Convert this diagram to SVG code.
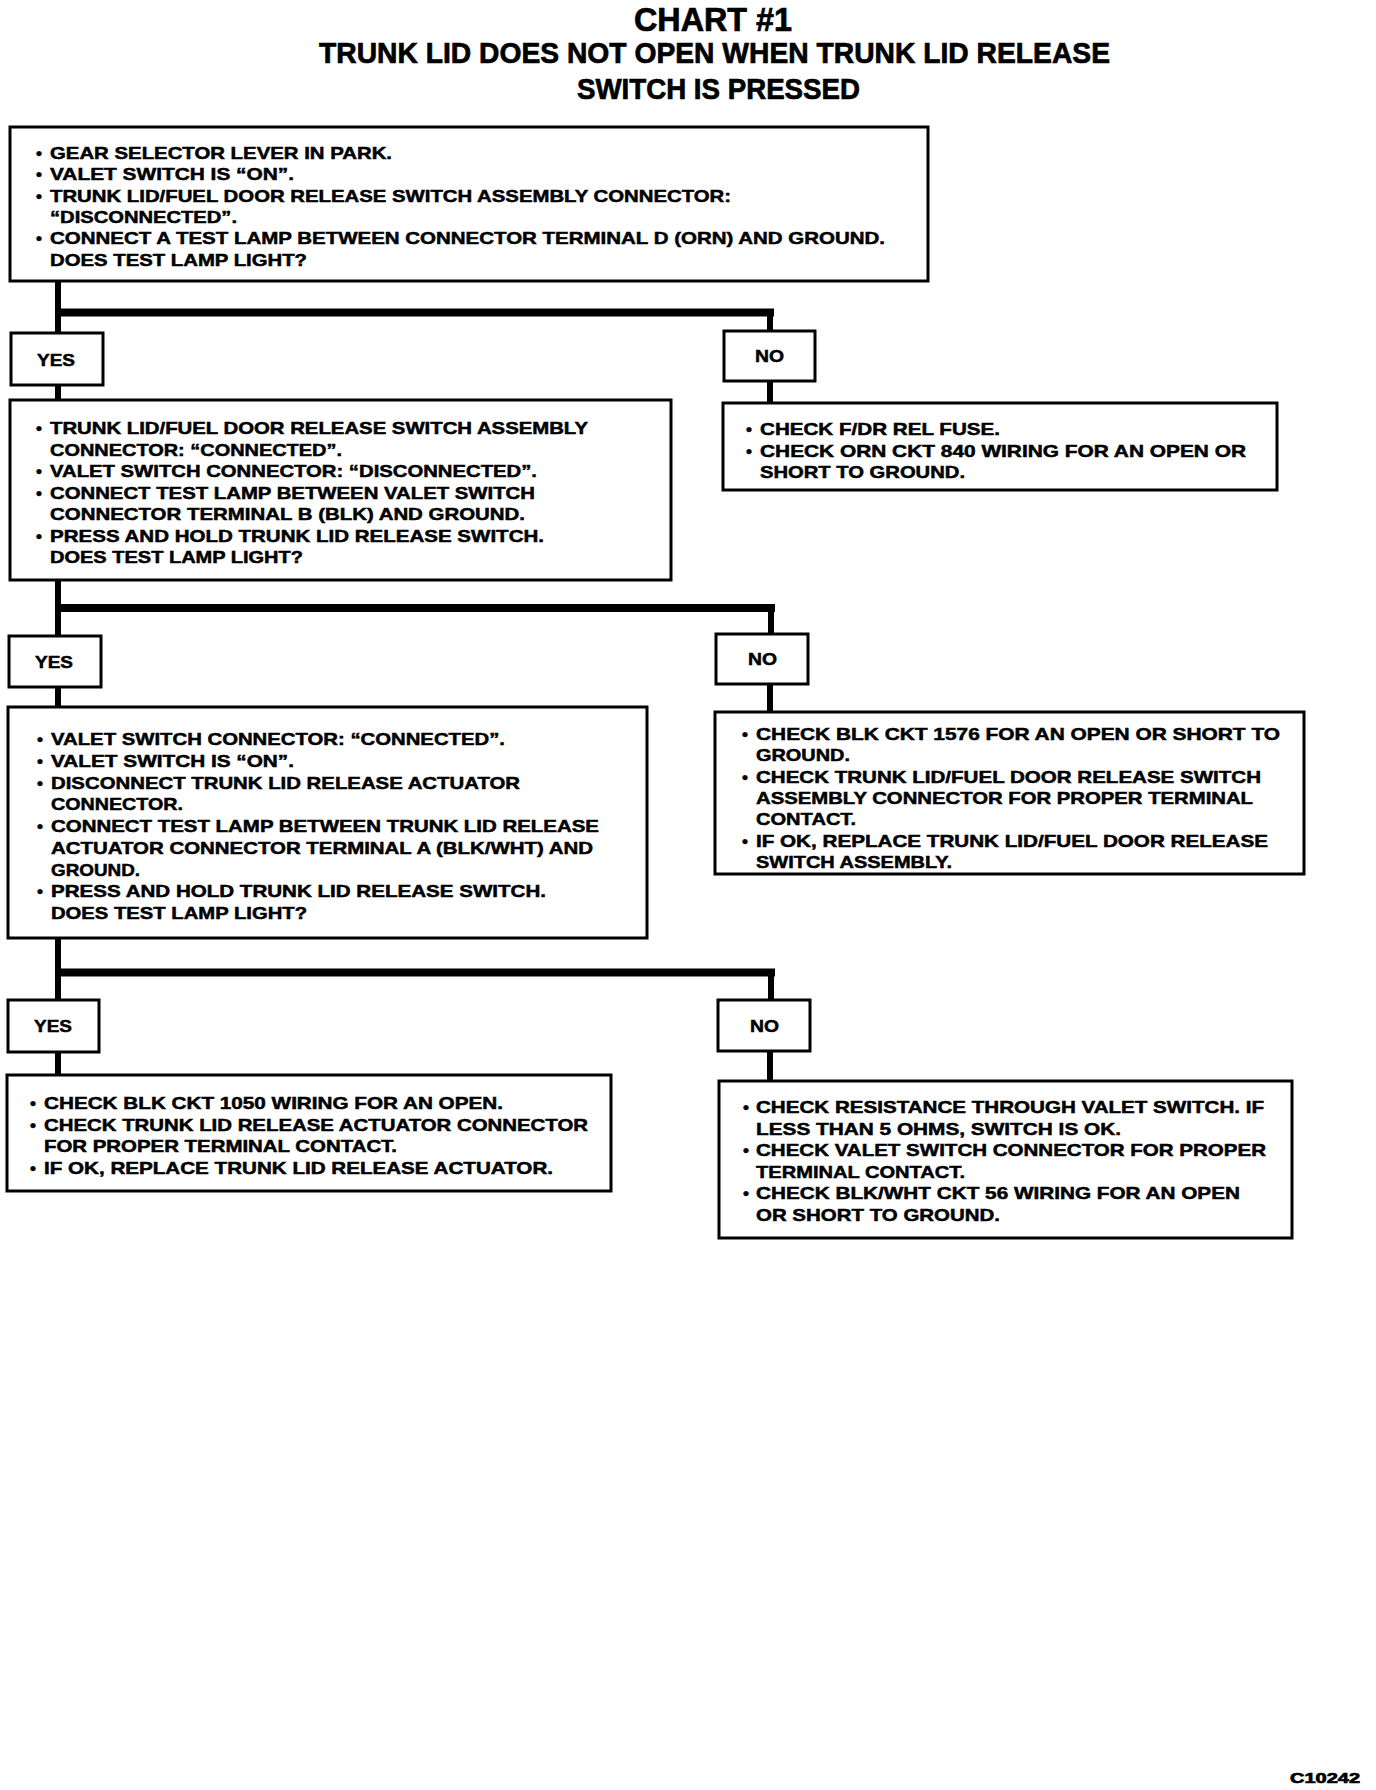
<svg xmlns="http://www.w3.org/2000/svg" width="1376" height="1790" viewBox="0 0 1376 1790">
<style>
.t{font-family:"Liberation Sans",Arial,sans-serif;font-weight:bold;font-size:17px;fill:#000;stroke:#000;stroke-width:0.5}
.h{font-family:"Liberation Sans",Arial,sans-serif;font-weight:bold;fill:#000;stroke:#000;stroke-width:0.7}
.box{fill:#fff;stroke:#000;stroke-width:3}
.v{fill:none;stroke:#000;stroke-width:6}
.hb{fill:none;stroke:#000;stroke-width:8}
</style>
<rect width="1376" height="1790" fill="#fff"/>
<g id="title">
<text class="h" x="634" y="31" font-size="33" textLength="158" lengthAdjust="spacingAndGlyphs">CHART #1</text>
<text class="h" x="319" y="63" font-size="29" textLength="791" lengthAdjust="spacingAndGlyphs">TRUNK LID DOES NOT OPEN WHEN TRUNK LID RELEASE</text>
<text class="h" x="577" y="99" font-size="29" textLength="283" lengthAdjust="spacingAndGlyphs">SWITCH IS PRESSED</text>
</g>
<g id="connectors">
<path class="v" d="M58 282V333M58 385V400M770 310V331M770 381V403"/>
<path class="hb" d="M55 312.5H774"/>
<path class="v" d="M58 580V636M58 687V707M771 605V634M770 684V712"/>
<path class="hb" d="M55 608H775"/>
<path class="v" d="M58 938V1000M58 1052V1075M771 969V1000M770 1051V1081"/>
<path class="hb" d="M55 972.5H775"/>
</g>
<g id="box1">
<rect class="box" x="10" y="127" width="918" height="154"/>
<text class="t" x="36" y="159">•</text><text class="t" x="50" y="159" textLength="342" lengthAdjust="spacingAndGlyphs">GEAR SELECTOR LEVER IN PARK.</text>
<text class="t" x="36" y="180.3">•</text><text class="t" x="50" y="180.3" textLength="244" lengthAdjust="spacingAndGlyphs">VALET SWITCH IS “ON”.</text>
<text class="t" x="36" y="201.6">•</text><text class="t" x="50" y="201.6" textLength="681" lengthAdjust="spacingAndGlyphs">TRUNK LID/FUEL DOOR RELEASE SWITCH ASSEMBLY CONNECTOR:</text>
<text class="t" x="50" y="223" textLength="187" lengthAdjust="spacingAndGlyphs">“DISCONNECTED”.</text>
<text class="t" x="36" y="244.3">•</text><text class="t" x="50" y="244.3" textLength="835" lengthAdjust="spacingAndGlyphs">CONNECT A TEST LAMP BETWEEN CONNECTOR TERMINAL D (ORN) AND GROUND.</text>
<text class="t" x="50" y="265.6" textLength="257" lengthAdjust="spacingAndGlyphs">DOES TEST LAMP LIGHT?</text>
</g>
<g id="yes1">
<rect class="box" x="11" y="333" width="92" height="52"/>
<text class="t" x="37" y="366" textLength="38" lengthAdjust="spacingAndGlyphs">YES</text>
</g>
<g id="no1">
<rect class="box" x="724" y="331" width="91" height="50"/>
<text class="t" x="755" y="362" textLength="29" lengthAdjust="spacingAndGlyphs">NO</text>
</g>
<g id="box2">
<rect class="box" x="10" y="400" width="661" height="180"/>
<text class="t" x="36" y="434">•</text><text class="t" x="50" y="434" textLength="538" lengthAdjust="spacingAndGlyphs">TRUNK LID/FUEL DOOR RELEASE SWITCH ASSEMBLY</text>
<text class="t" x="50" y="455.5" textLength="292" lengthAdjust="spacingAndGlyphs">CONNECTOR: “CONNECTED”.</text>
<text class="t" x="36" y="477">•</text><text class="t" x="50" y="477" textLength="487" lengthAdjust="spacingAndGlyphs">VALET SWITCH CONNECTOR: “DISCONNECTED”.</text>
<text class="t" x="36" y="498.5">•</text><text class="t" x="50" y="498.5" textLength="485" lengthAdjust="spacingAndGlyphs">CONNECT TEST LAMP BETWEEN VALET SWITCH</text>
<text class="t" x="50" y="520" textLength="475" lengthAdjust="spacingAndGlyphs">CONNECTOR TERMINAL B (BLK) AND GROUND.</text>
<text class="t" x="36" y="541.5">•</text><text class="t" x="50" y="541.5" textLength="494" lengthAdjust="spacingAndGlyphs">PRESS AND HOLD TRUNK LID RELEASE SWITCH.</text>
<text class="t" x="50" y="563" textLength="253" lengthAdjust="spacingAndGlyphs">DOES TEST LAMP LIGHT?</text>
</g>
<g id="noresult1">
<rect class="box" x="723" y="403" width="554" height="87"/>
<text class="t" x="746" y="435">•</text><text class="t" x="760" y="435" textLength="240" lengthAdjust="spacingAndGlyphs">CHECK F/DR REL FUSE.</text>
<text class="t" x="746" y="457">•</text><text class="t" x="760" y="457" textLength="486" lengthAdjust="spacingAndGlyphs">CHECK ORN CKT 840 WIRING FOR AN OPEN OR</text>
<text class="t" x="760" y="478" textLength="205" lengthAdjust="spacingAndGlyphs">SHORT TO GROUND.</text>
</g>
<g id="yes2">
<rect class="box" x="9" y="636" width="92" height="51"/>
<text class="t" x="35" y="668" textLength="38" lengthAdjust="spacingAndGlyphs">YES</text>
</g>
<g id="no2">
<rect class="box" x="716" y="634" width="92" height="50"/>
<text class="t" x="748" y="665" textLength="29" lengthAdjust="spacingAndGlyphs">NO</text>
</g>
<g id="box3">
<rect class="box" x="8" y="707" width="639" height="231"/>
<text class="t" x="37" y="745">•</text><text class="t" x="51" y="745" textLength="454" lengthAdjust="spacingAndGlyphs">VALET SWITCH CONNECTOR: “CONNECTED”.</text>
<text class="t" x="37" y="766.75">•</text><text class="t" x="51" y="766.75" textLength="243" lengthAdjust="spacingAndGlyphs">VALET SWITCH IS “ON”.</text>
<text class="t" x="37" y="788.5">•</text><text class="t" x="51" y="788.5" textLength="469" lengthAdjust="spacingAndGlyphs">DISCONNECT TRUNK LID RELEASE ACTUATOR</text>
<text class="t" x="51" y="810.25" textLength="132" lengthAdjust="spacingAndGlyphs">CONNECTOR.</text>
<text class="t" x="37" y="832">•</text><text class="t" x="51" y="832" textLength="548" lengthAdjust="spacingAndGlyphs">CONNECT TEST LAMP BETWEEN TRUNK LID RELEASE</text>
<text class="t" x="51" y="853.75" textLength="542" lengthAdjust="spacingAndGlyphs">ACTUATOR CONNECTOR TERMINAL A (BLK/WHT) AND</text>
<text class="t" x="51" y="875.5" textLength="89" lengthAdjust="spacingAndGlyphs">GROUND.</text>
<text class="t" x="37" y="897.25">•</text><text class="t" x="51" y="897.25" textLength="495" lengthAdjust="spacingAndGlyphs">PRESS AND HOLD TRUNK LID RELEASE SWITCH.</text>
<text class="t" x="51" y="919" textLength="256" lengthAdjust="spacingAndGlyphs">DOES TEST LAMP LIGHT?</text>
</g>
<g id="noresult2">
<rect class="box" x="715" y="712" width="589" height="162"/>
<text class="t" x="742" y="740">•</text><text class="t" x="756" y="740" textLength="524" lengthAdjust="spacingAndGlyphs">CHECK BLK CKT 1576 FOR AN OPEN OR SHORT TO</text>
<text class="t" x="756" y="761.3" textLength="94" lengthAdjust="spacingAndGlyphs">GROUND.</text>
<text class="t" x="742" y="782.6">•</text><text class="t" x="756" y="782.6" textLength="505" lengthAdjust="spacingAndGlyphs">CHECK TRUNK LID/FUEL DOOR RELEASE SWITCH</text>
<text class="t" x="756" y="804" textLength="497" lengthAdjust="spacingAndGlyphs">ASSEMBLY CONNECTOR FOR PROPER TERMINAL</text>
<text class="t" x="756" y="825.3" textLength="100" lengthAdjust="spacingAndGlyphs">CONTACT.</text>
<text class="t" x="742" y="846.6">•</text><text class="t" x="756" y="846.6" textLength="512" lengthAdjust="spacingAndGlyphs">IF OK, REPLACE TRUNK LID/FUEL DOOR RELEASE</text>
<text class="t" x="756" y="868" textLength="196" lengthAdjust="spacingAndGlyphs">SWITCH ASSEMBLY.</text>
</g>
<g id="yes3">
<rect class="box" x="8" y="1000" width="91" height="52"/>
<text class="t" x="34" y="1032" textLength="38" lengthAdjust="spacingAndGlyphs">YES</text>
</g>
<g id="no3">
<rect class="box" x="718" y="1000" width="92" height="51"/>
<text class="t" x="750" y="1032" textLength="29" lengthAdjust="spacingAndGlyphs">NO</text>
</g>
<g id="box4">
<rect class="box" x="7" y="1075" width="604" height="116"/>
<text class="t" x="30" y="1109">•</text><text class="t" x="44" y="1109" textLength="459" lengthAdjust="spacingAndGlyphs">CHECK BLK CKT 1050 WIRING FOR AN OPEN.</text>
<text class="t" x="30" y="1130.7">•</text><text class="t" x="44" y="1130.7" textLength="544" lengthAdjust="spacingAndGlyphs">CHECK TRUNK LID RELEASE ACTUATOR CONNECTOR</text>
<text class="t" x="44" y="1152.3" textLength="353" lengthAdjust="spacingAndGlyphs">FOR PROPER TERMINAL CONTACT.</text>
<text class="t" x="30" y="1174">•</text><text class="t" x="44" y="1174" textLength="509" lengthAdjust="spacingAndGlyphs">IF OK, REPLACE TRUNK LID RELEASE ACTUATOR.</text>
</g>
<g id="noresult3">
<rect class="box" x="719" y="1081" width="573" height="157"/>
<text class="t" x="743" y="1113">•</text><text class="t" x="756" y="1113" textLength="508" lengthAdjust="spacingAndGlyphs">CHECK RESISTANCE THROUGH VALET SWITCH. IF</text>
<text class="t" x="756" y="1134.6" textLength="365" lengthAdjust="spacingAndGlyphs">LESS THAN 5 OHMS, SWITCH IS OK.</text>
<text class="t" x="743" y="1156.2">•</text><text class="t" x="756" y="1156.2" textLength="510" lengthAdjust="spacingAndGlyphs">CHECK VALET SWITCH CONNECTOR FOR PROPER</text>
<text class="t" x="756" y="1177.8" textLength="209" lengthAdjust="spacingAndGlyphs">TERMINAL CONTACT.</text>
<text class="t" x="743" y="1199.4">•</text><text class="t" x="756" y="1199.4" textLength="484" lengthAdjust="spacingAndGlyphs">CHECK BLK/WHT CKT 56 WIRING FOR AN OPEN</text>
<text class="t" x="756" y="1221" textLength="244" lengthAdjust="spacingAndGlyphs">OR SHORT TO GROUND.</text>
</g>
<text class="h" x="1290" y="1783" font-size="14" textLength="70" lengthAdjust="spacingAndGlyphs">C10242</text>
</svg>
